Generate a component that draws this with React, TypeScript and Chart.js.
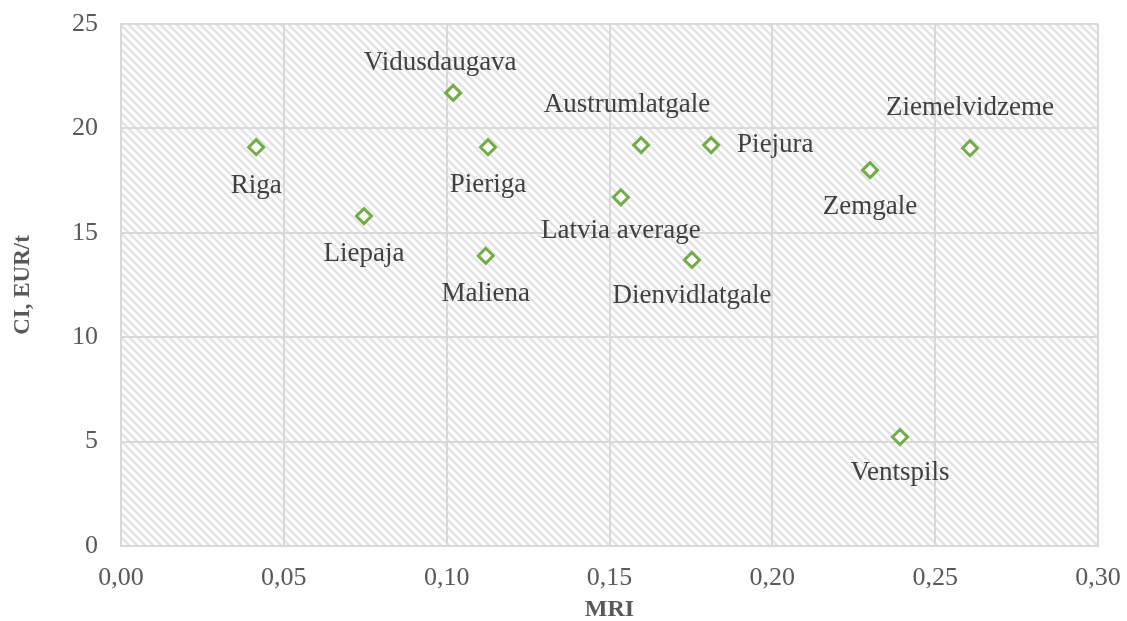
import React, { useEffect, useRef } from "react";
import { Chart, registerables } from "chart.js";

Chart.register(...registerables);

const regions = [
  "Riga",
  "Liepaja",
  "Vidusdaugava",
  "Pieriga",
  "Maliena",
  "Latvia average",
  "Austrumlatgale",
  "Piejura",
  "Dienvidlatgale",
  "Zemgale",
  "Ziemelvidzeme",
  "Ventspils",
];
const mriValues = [0.0415, 0.0746, 0.102, 0.1127, 0.112, 0.1535, 0.1597, 0.1812, 0.1753, 0.23, 0.2607, 0.2392];
const ciValues = [19.1, 15.8, 21.7, 19.1, 13.9, 16.7, 19.2, 19.2, 13.7, 18.0, 19.05, 5.22];

// label placement relative to marker: [dx, dy, align]
const labelPlacement: [number, number, CanvasTextAlign][] = [
  [0, 39, "center"],
  [0, 38, "center"],
  [-13, -30, "center"],
  [0, 38, "center"],
  [0, 38, "center"],
  [0, 34, "center"],
  [-14, -40, "center"],
  [26, 0, "left"],
  [0, 36, "center"],
  [0, 37, "center"],
  [0, -40, "center"],
  [0, 36, "center"],
];

const SERIF = "'Liberation Serif', 'Times New Roman', serif";

function makePattern(ctx: CanvasRenderingContext2D) {
  const c = document.createElement("canvas");
  c.width = 8;
  c.height = 8;
  const p = c.getContext("2d")!;
  p.fillStyle = "#ffffff";
  p.fillRect(0, 0, 8, 8);
  p.strokeStyle = "#E3E3E3";
  p.lineWidth = 2.4;
  p.beginPath();
  p.moveTo(-2, -2);
  p.lineTo(10, 10);
  p.moveTo(-6, 2);
  p.lineTo(6, 14);
  p.moveTo(2, -6);
  p.lineTo(14, 6);
  p.stroke();
  return ctx.createPattern(c, "repeat");
}

const hatchPlugin = {
  id: "hatchBg",
  beforeDraw(chart: any) {
    const { ctx, chartArea } = chart;
    if (!chartArea) return;
    const pat = makePattern(ctx);
    ctx.save();
    ctx.fillStyle = pat || "#f0f0f0";
    ctx.fillRect(chartArea.left, chartArea.top, chartArea.right - chartArea.left, chartArea.bottom - chartArea.top);
    ctx.restore();
  },
};

const labelPlugin = {
  id: "pointLabels",
  afterDatasetsDraw(chart: any) {
    const { ctx } = chart;
    const meta = chart.getDatasetMeta(0);
    ctx.save();
    ctx.font = `27px ${SERIF}`;
    ctx.fillStyle = "#404040";
    ctx.textBaseline = "middle";
    meta.data.forEach((pt: any, i: number) => {
      const [dx, dy, align] = labelPlacement[i];
      ctx.textAlign = align;
      ctx.fillText(regions[i], pt.x + dx, pt.y + dy);
    });
    ctx.restore();
  },
};

export default function App() {
  const ref = useRef<HTMLCanvasElement | null>(null);
  useEffect(() => {
    document.body.style.margin = "0";
    const canvas = ref.current!;
    const chart = new Chart(canvas, {
      type: "scatter",
      data: {
        datasets: [
          {
            label: "CI",
            data: mriValues.map((x, i) => ({ x, y: ciValues[i] })),
            pointStyle: "rectRot",
            pointRadius: 7.5,
            pointHoverRadius: 7.5,
            borderWidth: 3,
            borderColor: "#70AD47",
            backgroundColor: "#ffffff",
          },
        ],
      },
      options: {
        responsive: false,
        animation: false,
        layout: { padding: { left: 0, right: 29, top: 24, bottom: 0 } },
        plugins: {
          legend: { display: false },
          tooltip: { enabled: false },
        },
        scales: {
          x: {
            type: "linear",
            min: 0,
            max: 0.3,
            afterFit: (s: any) => {
              s.height = 75;
              s.paddingLeft = 0;
              s.paddingRight = 0;
            },
            ticks: {
              stepSize: 0.05,
              color: "#595959",
              font: { family: SERIF, size: 26 },
              padding: 17,
              callback: (v: any) => Number(v).toFixed(2).replace(".", ","),
            },
            grid: { color: "#D9D9D9", lineWidth: 2, drawTicks: false },
            border: { display: true, color: "#D9D9D9", width: 2 },
            title: {
              display: true,
              text: "MRI",
              color: "#595959",
              font: { family: SERIF, size: 24, weight: "bold" },
              padding: { top: 0, bottom: -3 },
            },
          },
          y: {
            type: "linear",
            min: 0,
            max: 25,
            afterFit: (s: any) => {
              s.width = 121;
              s.paddingTop = 0;
              s.paddingBottom = 0;
            },
            ticks: {
              stepSize: 5,
              color: "#595959",
              font: { family: SERIF, size: 26 },
              padding: 23,
            },
            grid: { color: "#D9D9D9", lineWidth: 2, drawTicks: false },
            border: { display: true, color: "#D9D9D9", width: 2 },
            title: {
              display: true,
              text: "CI, EUR/t",
              color: "#595959",
              font: { family: SERIF, size: 23, weight: "bold" },
              padding: { top: 9, bottom: 0 },
            },
          },
        },
      },
      plugins: [hatchPlugin, labelPlugin],
    });
    return () => chart.destroy();
  }, []);
  return <canvas ref={ref} width={1127} height={621} style={{ display: "block" }} />;
}
